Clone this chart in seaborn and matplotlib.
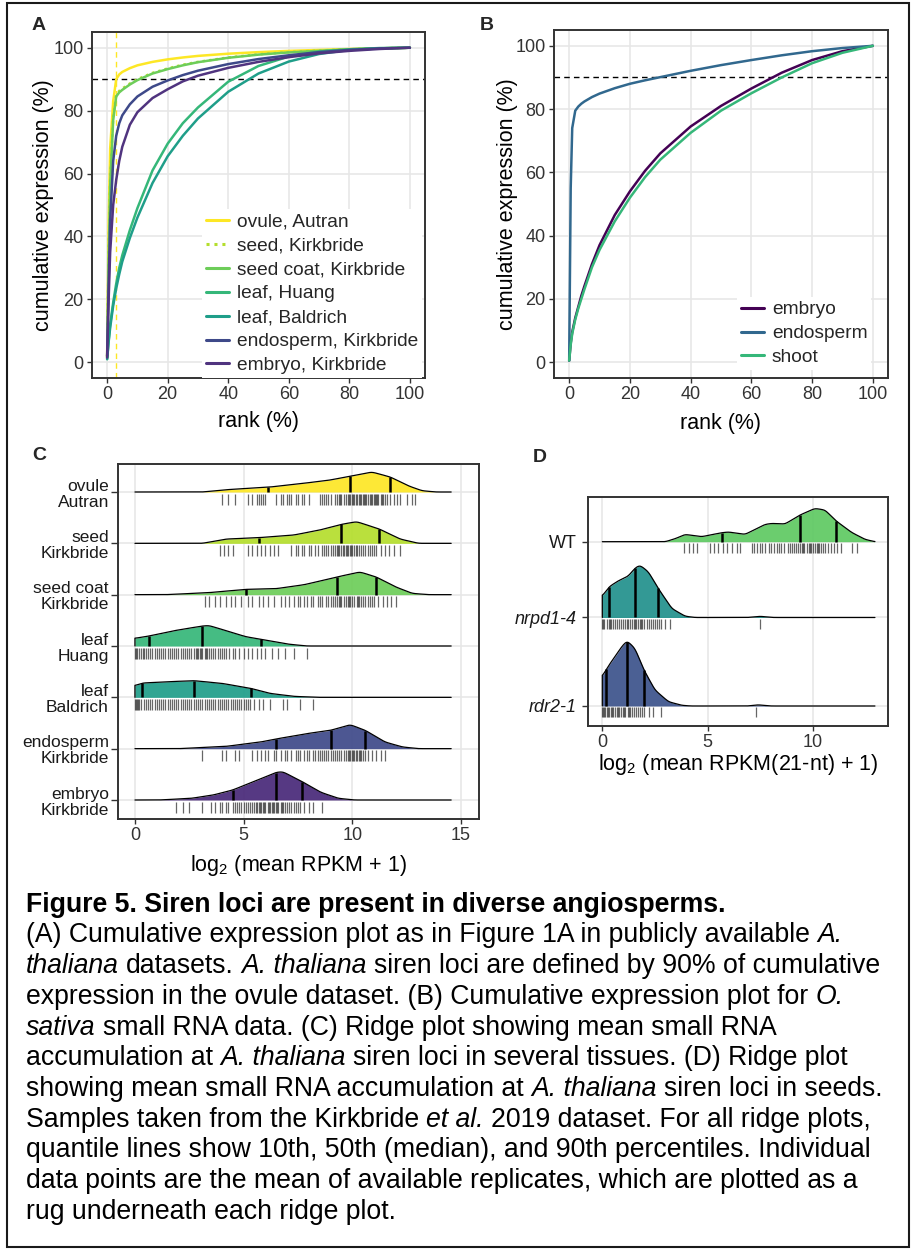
import numpy as np
import pandas as pd
import matplotlib
matplotlib.use("Agg")
import matplotlib.pyplot as plt
import seaborn as sns
from matplotlib.patches import Rectangle

# ---------------- Panel A: cumulative expression, A. thaliana ----------------
RANK_PCT = [0, 0.5, 1, 2, 3, 4, 5, 7.5, 10, 15, 20, 25, 30, 40, 50, 60, 70, 80, 90, 100]
A_SAMPLES = ["ovule, Autran", "seed, Kirkbride", "seed coat, Kirkbride", "leaf, Huang",
             "leaf, Baldrich", "endosperm, Kirkbride", "embryo, Kirkbride"]
ovule_autran = [2, 45, 68, 83, 90, 91.5, 92.3, 93.5, 94.4, 95.5, 96.3, 96.9, 97.4, 98.1, 98.6, 99.0, 99.3, 99.6, 99.8, 100]
seed_kirk = [1.5, 35, 58, 78, 85, 86.3, 87, 88.6, 90, 92, 93.4, 94.6, 95.5, 96.9, 97.9, 98.6, 99.1, 99.5, 99.8, 100]
seedcoat_kirk = [1.5, 33, 56, 77, 84.5, 85.8, 86.6, 88.3, 89.7, 91.8, 93.2, 94.4, 95.4, 96.8, 97.8, 98.5, 99.0, 99.5, 99.8, 100]
leaf_huang = [1, 7, 12, 19, 25, 30, 34, 42, 49, 61, 69.5, 76, 81, 89.2, 94.2, 97.2, 98.8, 99.5, 99.9, 100]
leaf_baldrich = [1, 6.5, 11, 18, 23.5, 28, 32, 39.5, 46, 57, 65.5, 72, 77.5, 86, 91.8, 95.6, 98, 99.3, 99.8, 100]
endosperm_kirk = [2, 25, 45, 64, 72, 76, 78.5, 82, 84.5, 87.6, 89.6, 91.3, 92.7, 94.8, 96.4, 97.6, 98.6, 99.3, 99.8, 100]
embryo_kirk = [1.5, 20, 35, 50, 58, 64, 68.5, 75.5, 79.5, 84, 86.8, 89.3, 91.1, 93.6, 95.5, 97.0, 98.2, 99.0, 99.6, 100]
A_COLORS = ["#FDE725", "#B4DE2C", "#6DCD59", "#35B779", "#1F9E89", "#3E4989", "#50347F"]
OVULE_CUTOFF_RANK = 3.0
CUTOFF_PCT = 90

# ---------------- Panel B: cumulative expression, O. sativa ----------------
B_SAMPLES = ["embryo", "endosperm", "shoot"]
rice_embryo = [0.5, 6, 9.5, 14, 17.5, 21, 24, 31, 37, 46.5, 54, 60.5, 66, 74.5, 81, 86.5, 91.5, 95.5, 98.3, 100]
rice_endosperm = [0.5, 55, 74, 79.5, 80.8, 81.7, 82.4, 83.8, 84.9, 86.6, 88, 89.1, 90.1, 92.1, 93.9, 95.5, 97, 98.3, 99.3, 100]
rice_shoot = [0.5, 5.5, 9, 13.5, 17, 20, 23, 30, 35.5, 44.5, 52, 58.5, 64, 72.5, 79.5, 85, 90, 94.5, 97.8, 100]
B_COLORS = ["#440154", "#31688E", "#35B779"]

# ---------------- Panel C: ridge plots, several tissues ----------------
C_LABELS = ["ovule\nAutran", "seed\nKirkbride", "seed coat\nKirkbride", "leaf\nHuang",
            "leaf\nBaldrich", "endosperm\nKirkbride", "embryo\nKirkbride"]
C_COLORS = ["#FDE725", "#B4DE2C", "#6DCD59", "#35B779", "#1F9E89", "#3E4989", "#482878"]
# density outline: x (log2 RPKM) and height (px above baseline)
C_DENS_X = [
    [3.1, 4.2, 6.1, 7.6, 8.9, 9.9, 10.9, 11.75, 12.6, 13.2, 13.85],
    [3.1, 4.2, 5.7, 7.3, 8.5, 9.5, 10.2, 11.25, 12.2, 13.05],
    [1.4, 3.4, 5.1, 6.5, 7.8, 9.3, 10.35, 11.1, 12.0, 12.75, 13.5],
    [0.0, 0.65, 1.8, 3.1, 3.4, 4.2, 5.1, 5.8, 7.0, 7.9],
    [0.0, 0.33, 1.4, 2.7, 4.0, 5.33, 6.2, 7.3, 8.4],
    [2.0, 4.2, 5.8, 6.5, 7.9, 9.0, 9.9, 10.6, 11.5, 12.3, 13.05],
    [1.1, 2.6, 3.6, 4.5, 5.75, 6.5, 6.8, 7.7, 8.55, 9.35, 10.1],
]
C_DENS_H = [
    [0, 2.3, 4.7, 8.3, 11.7, 15.7, 20, 15, 6, 1.3, 0],
    [0, 4.3, 5.7, 8.3, 13.3, 19, 21.7, 14.3, 4.3, 0],
    [0, 2, 5.3, 6, 10, 17.7, 22.7, 17.7, 7.7, 1.3, 0],
    [7.7, 10, 15.3, 20, 20.5, 15.3, 9.3, 6.7, 2, 0],
    [11.7, 14.3, 15.5, 16.7, 14, 9, 4, 1, 0],
    [0, 2.3, 6.7, 9.7, 15, 18.3, 24, 18.3, 6.7, 1.7, 0],
    [0, 1.7, 5, 10, 21, 27.7, 28.3, 18.3, 7.7, 1.7, 0],
]
# 10th, 50th, 90th percentiles
C_QUANT = [
    [6.1, 9.9, 11.75],
    [5.7, 9.5, 11.25],
    [5.1, 9.3, 11.1],
    [0.65, 3.1, 5.8],
    [0.33, 2.7, 5.33],
    [6.5, 9.0, 10.6],
    [4.5, 6.5, 7.7],
]
C_RUG = [
    [4.0, 4.3, 4.6, 5.2, 5.4, 5.6, 5.7, 5.8, 5.9, 6.0, 6.5, 6.7, 6.8, 7.0, 7.1, 7.2, 7.4, 7.5, 7.7, 7.8,
     8.0, 8.5, 8.6, 8.7, 8.8, 8.9, 9.0, 9.2, 9.3, 9.4, 9.45, 9.5, 9.6, 9.7, 9.8, 9.85, 9.9, 10.0, 10.05,
     10.1, 10.15, 10.2, 10.3, 10.35, 10.4, 10.5, 10.55, 10.6, 10.65, 10.7, 10.8, 10.85, 10.9, 11.0, 11.05,
     11.1, 11.15, 11.2, 11.3, 11.35, 11.4, 11.5, 11.6, 11.75, 11.9, 12.05, 12.2, 12.5, 12.75, 12.9],
    [3.9, 4.1, 4.3, 4.5, 5.2, 5.4, 5.6, 5.8, 6.0, 6.2, 6.4, 6.6, 7.2, 7.4, 7.5, 7.7, 7.8, 8.0, 8.1, 8.3,
     8.4, 8.6, 8.7, 8.8, 8.9, 9.0, 9.1, 9.2, 9.3, 9.35, 9.4, 9.5, 9.55, 9.6, 9.7, 9.75, 9.8, 9.9, 9.95,
     10.0, 10.1, 10.15, 10.2, 10.3, 10.4, 10.5, 10.6, 10.7, 10.8, 10.9, 11.0, 11.1, 11.3, 11.5, 11.7,
     11.9, 12.2],
    [3.2, 3.4, 3.7, 3.9, 4.2, 4.4, 4.6, 4.9, 5.2, 5.4, 5.7, 5.9, 6.1, 6.4, 6.7, 6.9, 7.1, 7.3, 7.5, 7.6,
     7.8, 7.9, 8.1, 8.2, 8.4, 8.5, 8.6, 8.8, 8.9, 9.0, 9.1, 9.2, 9.3, 9.4, 9.45, 9.5, 9.6, 9.7, 9.8,
     9.85, 9.9, 10.0, 10.1, 10.2, 10.25, 10.3, 10.4, 10.5, 10.6, 10.7, 10.8, 10.9, 11.0, 11.2, 11.4,
     11.6, 11.8, 12.0],
    [0.0, 0.05, 0.1, 0.2, 0.3, 0.35, 0.4, 0.5, 0.6, 0.7, 0.8, 0.9, 1.0, 1.1, 1.2, 1.3, 1.4, 1.5, 1.6,
     1.7, 1.8, 1.9, 2.0, 2.1, 2.2, 2.3, 2.4, 2.5, 2.6, 2.7, 2.8, 2.85, 2.9, 3.0, 3.05, 3.1, 3.2, 3.25,
     3.3, 3.4, 3.5, 3.6, 3.7, 3.8, 3.9, 4.0, 4.1, 4.2, 4.35, 4.5, 4.6, 4.8, 5.0, 5.2, 5.4, 5.6, 5.8,
     6.0, 6.3, 6.6, 6.9, 7.3, 7.9],
    [0.0, 0.05, 0.1, 0.15, 0.2, 0.3, 0.4, 0.5, 0.6, 0.7, 0.8, 0.9, 1.0, 1.1, 1.2, 1.3, 1.4, 1.5, 1.6,
     1.7, 1.8, 1.9, 2.0, 2.1, 2.2, 2.3, 2.4, 2.5, 2.6, 2.7, 2.8, 2.9, 3.0, 3.1, 3.2, 3.3, 3.4, 3.5,
     3.6, 3.7, 3.8, 3.9, 4.0, 4.1, 4.2, 4.3, 4.4, 4.5, 4.6, 4.7, 4.8, 4.9, 5.0, 5.1, 5.2, 5.3, 5.5,
     5.7, 5.9, 6.2, 6.8, 7.0, 7.6, 8.2],
    [3.1, 4.0, 4.2, 4.6, 4.8, 5.4, 5.6, 5.8, 6.0, 6.1, 6.4, 6.5, 6.7, 6.9, 7.0, 7.2, 7.4, 7.5, 7.6,
     7.8, 7.9, 8.0, 8.2, 8.3, 8.4, 8.5, 8.6, 8.7, 8.8, 8.9, 9.0, 9.1, 9.2, 9.3, 9.4, 9.5, 9.6, 9.7,
     9.8, 9.85, 9.9, 10.0, 10.05, 10.1, 10.15, 10.2, 10.3, 10.35, 10.4, 10.5, 10.6, 10.7, 10.9, 11.1,
     11.3, 11.5],
    [1.9, 2.2, 2.5, 3.1, 3.5, 3.7, 3.9, 4.0, 4.2, 4.3, 4.5, 4.6, 4.7, 4.8, 4.9, 5.0, 5.1, 5.2, 5.3,
     5.4, 5.5, 5.55, 5.6, 5.7, 5.75, 5.8, 5.9, 5.95, 6.0, 6.1, 6.15, 6.2, 6.3, 6.35, 6.4, 6.5, 6.55,
     6.6, 6.7, 6.75, 6.8, 6.9, 7.0, 7.1, 7.2, 7.3, 7.4, 7.5, 7.6, 7.8, 8.0, 8.2, 8.6],
]
C_X_MAX = 14.55

# ---------------- Panel D: ridge plots, seeds (21-nt) ----------------
D_LABELS = ["WT", "nrpd1-4", "rdr2-1"]
D_COLORS = ["#5EC962", "#21918C", "#3B528B"]
D_DENS_X = [
    [3.0, 3.5, 3.93, 4.72, 5.67, 6.0, 6.78, 7.73, 8.05, 8.68, 9.39, 10.1, 10.58, 11.09, 11.84, 12.48, 12.95],
    [0.0, 0.32, 0.76, 1.23, 1.58, 1.79, 2.19, 2.66, 3.3, 3.93, 4.4, 6.9, 7.5, 8.1],
    [0.0, 0.21, 0.6, 0.92, 1.17, 1.55, 1.98, 2.5, 3.14, 3.77, 4.2, 6.9, 7.4, 8.0],
]
D_DENS_H = [
    [0, 3.3, 7.3, 5, 9, 9.7, 7.3, 17.3, 18.3, 17.7, 26.7, 33.3, 31.7, 21, 9.3, 2.3, 0],
    [21.3, 30.7, 36.7, 41.3, 50, 52.3, 45.7, 29, 9, 1.3, 0, 0, 1.2, 0],
    [29.3, 37.7, 49.3, 59.3, 65.3, 57.7, 36, 16, 4.3, 0.7, 0, 0, 1.2, 0],
]
D_QUANT = [[5.67, 9.37, 11.1], [0.32, 1.56, 2.66], [0.19, 1.17, 1.98]]
D_RUG = [
    [3.9, 4.1, 4.3, 4.5, 5.1, 5.3, 5.5, 5.75, 5.9, 6.15, 6.4, 6.55, 7.1, 7.2, 7.35, 7.5, 7.6, 7.75, 7.9,
     8.0, 8.15, 8.3, 8.4, 8.5, 8.65, 8.8, 8.9, 9.0, 9.1, 9.2, 9.3, 9.4, 9.5, 9.55, 9.6, 9.7, 9.8, 9.85,
     9.9, 10.0, 10.1, 10.2, 10.25, 10.3, 10.4, 10.5, 10.6, 10.7, 10.85, 11.0, 11.15, 11.35, 11.85, 12.1],
    [0.0, 0.05, 0.1, 0.2, 0.3, 0.35, 0.4, 0.5, 0.6, 0.7, 0.8, 0.9, 1.0, 1.1, 1.15, 1.2, 1.3, 1.4, 1.5,
     1.55, 1.6, 1.7, 1.8, 1.85, 1.9, 2.0, 2.1, 2.2, 2.3, 2.4, 2.5, 2.6, 2.7, 2.8, 3.0, 3.2, 7.5],
    [0.0, 0.05, 0.1, 0.15, 0.2, 0.25, 0.3, 0.4, 0.45, 0.5, 0.6, 0.7, 0.75, 0.8, 0.9, 1.0, 1.05, 1.1,
     1.2, 1.25, 1.3, 1.4, 1.5, 1.6, 1.7, 1.8, 1.9, 2.0, 2.2, 2.4, 2.8, 7.3],
]
D_X_MAX = 12.95

# ---------------- caption ----------------
CAPTION_TITLE = "Figure 5. Siren loci are present in diverse angiosperms."
CAPTION_LINES = [
    [("(A) Cumulative expression plot as in Figure 1A in publicly available ", "n"), ("A.", "i")],
    [("thaliana", "i"), (" datasets. ", "n"), ("A. thaliana", "i"),
     (" siren loci are defined by 90% of cumulative", "n")],
    [("expression in the ovule dataset. (B) Cumulative expression plot for ", "n"), ("O.", "i")],
    [("sativa", "i"), (" small RNA data. (C) Ridge plot showing mean small RNA", "n")],
    [("accumulation at ", "n"), ("A. thaliana", "i"), (" siren loci in several tissues. (D) Ridge plot", "n")],
    [("showing mean small RNA accumulation at ", "n"), ("A. thaliana", "i"), (" siren loci in seeds.", "n")],
    [("Samples taken from the Kirkbride ", "n"), ("et al.", "i"), (" 2019 dataset. For all ridge plots,", "n")],
    [("quantile lines show 10th, 50th (median), and 90th percentiles. Individual", "n")],
    [("data points are the mean of available replicates, which are plotted as a", "n")],
    [("rug underneath each ridge plot.", "n")],
]

# ---------------- style ----------------
sns.set_theme(style="whitegrid")
plt.rcParams["font.family"] = ["Liberation Sans", "DejaVu Sans"]
plt.rcParams["mathtext.fontset"] = "custom"
plt.rcParams["mathtext.rm"] = "Liberation Sans"
plt.rcParams["mathtext.it"] = "Liberation Sans:italic"
plt.rcParams["mathtext.default"] = "regular"

W, H = 914, 1251
fig = plt.figure(figsize=(W / 100, H / 100), dpi=100)
fig.patch.set_facecolor("white")

GRID = "#E6E6E6"
FRAME = "#333333"
TICK_FS = 13
TITLE_FS = 15.5


def px_axes(l, t, r, b):
    return fig.add_axes([l / W, 1 - b / H, (r - l) / W, (b - t) / H])


def style_axes(ax):
    ax.set_facecolor("white")
    for s in ax.spines.values():
        s.set_visible(True)
        s.set_color(FRAME)
        s.set_linewidth(1.4)
    ax.grid(True, color=GRID, linewidth=1.1)
    ax.set_axisbelow(True)
    ax.tick_params(axis="both", which="major", length=3.5, width=1.0, color=FRAME,
                   labelsize=TICK_FS, labelcolor="#333333", pad=2.5, bottom=True, left=True)


def cum_panel(ax, names, series, colors, legend_anchor, dotted=None):
    rows = []
    for name, vals in zip(names, series):
        for r, v in zip(RANK_PCT, vals):
            rows.append({"rank": r, "cum": v, "sample": name})
    df = pd.DataFrame(rows)
    dashes = {n: ((1, 1.6) if n == dotted else "") for n in names}
    sns.lineplot(data=df, x="rank", y="cum", hue="sample", style="sample", hue_order=names,
                 style_order=names, palette=colors, dashes=dashes, linewidth=1.8, ax=ax,
                 estimator=None, sort=False)
    ax.axhline(CUTOFF_PCT, color="black", linewidth=1.0, dashes=(4, 3), zorder=1.5)
    ax.set_xlim(-5, 105)
    ax.set_ylim(-5, 105)
    ax.set_xticks(range(0, 101, 20))
    ax.set_yticks(range(0, 101, 20))
    style_axes(ax)
    ax.set_xlabel("rank (%)", fontsize=TITLE_FS, color="black", va="center")
    ax.set_ylabel("cumulative expression (%)", fontsize=TITLE_FS, color="black", va="center")
    handles, labels = ax.get_legend_handles_labels()
    for hd in handles:
        hd.set_linewidth(2.2)
    leg = ax.legend(handles, labels, loc="lower right", bbox_to_anchor=legend_anchor,
                    fontsize=13.8, frameon=True, facecolor="white", edgecolor="none",
                    framealpha=1, handlelength=1.2, handletextpad=0.4, labelspacing=0.34,
                    borderpad=0.2, borderaxespad=0.0)
    leg.get_frame().set_boxstyle("square", pad=0)
    return ax


# ---------------- panel A ----------------
axA = px_axes(92, 32, 425, 378)
axA.axvline(OVULE_CUTOFF_RANK, color=A_COLORS[0], linewidth=1.0, dashes=(4, 3), zorder=1.5)
cum_panel(axA, A_SAMPLES,
          [ovule_autran, seed_kirk, seedcoat_kirk, leaf_huang, leaf_baldrich, endosperm_kirk, embryo_kirk],
          A_COLORS, (0.99, 0.0), dotted="seed, Kirkbride")
axA.yaxis.set_label_coords((43 - 92) / 333, 0.5)
axA.xaxis.set_label_coords(0.5, (378 - 422) / 346)

# ---------------- panel B ----------------
axB = px_axes(554, 30, 888, 378)
cum_panel(axB, B_SAMPLES, [rice_embryo, rice_endosperm, rice_shoot], B_COLORS, (0.95, 0.023))
axB.yaxis.set_label_coords((507 - 554) / 334, 0.5)
axB.xaxis.set_label_coords(0.5, (378 - 423) / 348)


# ---------------- ridge helper ----------------
def ridge(ax, base, dx, dh, quants, rug, color, x_max, unit, rug_gap, rug_len):
    grid = np.linspace(0, x_max, 700)
    h = np.interp(grid, dx, dh, left=0, right=0) / unit
    # light smoothing of the read outline for drawing
    k = np.exp(-0.5 * (np.arange(-12, 13) / 5.0) ** 2)
    k /= k.sum()
    h = np.convolve(np.pad(h, 12, mode="edge"), k, mode="valid")
    ax.fill_between(grid, base, base + h, color=color, alpha=0.92, linewidth=0, zorder=3)
    ax.plot(np.r_[grid[0], grid], np.r_[base, base + h], color="black", linewidth=0.9, zorder=4)
    qh = np.interp(quants, grid, h)
    ax.vlines(quants, base, base + qh, color="black", linewidth=1.8, zorder=5)
    ax.vlines(rug, base - rug_gap, base - rug_gap - rug_len, color="black", alpha=0.6,
              linewidth=0.9, zorder=3)


# ---------------- panel C ----------------
axC = px_axes(118, 464, 479, 819)
C_ROWS_Y = [6.54, 5.513, 4.487, 3.46, 2.433, 1.407, 0.38]   # baseline positions (50 px units)
for i in range(len(C_LABELS)):
    ridge(axC, C_ROWS_Y[i], C_DENS_X[i], C_DENS_H[i], C_QUANT[i], C_RUG[i], C_COLORS[i],
          C_X_MAX, 50.0, 0.03, 0.22)
axC.set_xlim(-0.78, 15.83)
axC.set_ylim(0, 7.1)
axC.set_xticks([0, 5, 10, 15])
axC.set_yticks(C_ROWS_Y)
axC.set_yticklabels(C_LABELS, linespacing=1.1)
style_axes(axC)
axC.tick_params(axis="y", labelsize=12.5, labelcolor="#1a1a1a", length=5, pad=1.5)
axC.set_xlabel("log$_2$ (mean RPKM + 1)", fontsize=TITLE_FS, color="black", va="center")
axC.xaxis.set_label_coords(0.5, (819 - 865) / 355)

# ---------------- panel D ----------------
axD = px_axes(588, 497, 888, 726)
D_ROWS_Y = [3.686, 2.17, 0.4]
for i in range(len(D_LABELS)):
    ridge(axD, D_ROWS_Y[i], D_DENS_X[i], D_DENS_H[i], D_QUANT[i], D_RUG[i], D_COLORS[i],
          D_X_MAX, 50.0, 0.03, 0.2)
axD.set_xlim(-0.68, 13.57)
axD.set_ylim(0, 4.58)
axD.set_xticks([0, 5, 10])
axD.set_yticks(D_ROWS_Y)
axD.set_yticklabels(D_LABELS)
style_axes(axD)
axD.tick_params(axis="y", labelsize=13, labelcolor="#1a1a1a", length=4, pad=4)
for lab in axD.get_yticklabels()[1:]:
    lab.set_style("italic")
axD.set_xlabel("log$_2$ (mean RPKM(21-nt) + 1)", fontsize=TITLE_FS, color="black", va="center")
axD.xaxis.set_label_coords(0.5, (726 - 765) / 229)

# ---------------- panel letters ----------------
for letter, x, y in [("A", 32, 25), ("B", 480, 25), ("C", 32, 455), ("D", 533, 457)]:
    fig.text(x / W, 1 - y / H, letter, fontsize=14, fontweight="bold", ha="left", va="center")

# ---------------- caption ----------------
renderer = fig.canvas.get_renderer()
CAP_FS = 19.2
CAP_X = 26


def text_w(s, **kw):
    t = fig.text(0, 0, s, fontsize=CAP_FS, **kw)
    w = t.get_window_extent(renderer=renderer).width
    t.remove()
    return w


def rich_line(y_px, parts):
    x = CAP_X
    for txt, st in parts:
        kw = {"style": "italic"} if st == "i" else {}
        space_w = text_w("x x", **kw) - text_w("xx", **kw)
        lead = len(txt) - len(txt.lstrip(" "))
        trail = len(txt) - len(txt.rstrip(" "))
        x += lead * space_w
        core = txt.strip(" ")
        t = fig.text(x / W, 1 - y_px / H, core, fontsize=CAP_FS, ha="left", va="baseline",
                     color="black", **kw)
        x += t.get_window_extent(renderer=renderer).width + trail * space_w


fig.text(CAP_X / W, 1 - 912 / H, CAPTION_TITLE, fontsize=CAP_FS, fontweight="bold",
         ha="left", va="baseline", color="black")
for j, parts in enumerate(CAPTION_LINES):
    rich_line(942.5 + j * 30.7, parts)

# outer border
fig.patches.append(Rectangle((7 / W, 1 - 1247 / H), (909 - 7) / W, (1247 - 3) / H,
                             transform=fig.transFigure, fill=False, edgecolor="#1a1a1a",
                             linewidth=1.5))

fig.savefig("out.png", dpi=100, facecolor="white")
